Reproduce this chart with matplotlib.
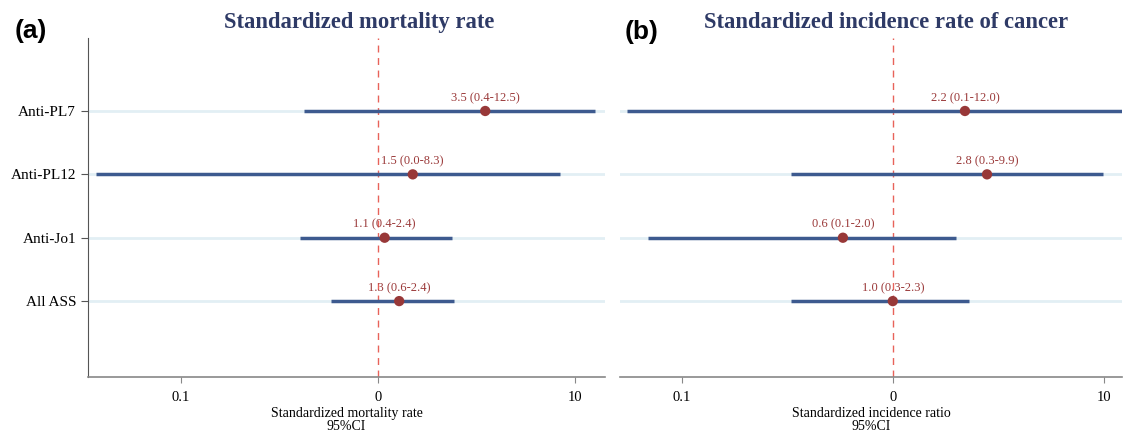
import numpy as np
import matplotlib.pyplot as plt
from matplotlib.ticker import FixedLocator, FixedFormatter, NullLocator

plt.rcParams['font.family'] = ['Liberation Serif', 'DejaVu Serif']

# rows, top to bottom
groups = ['Anti-PL7', 'Anti-PL12', 'Anti-Jo1', 'All ASS']

# (a) standardized mortality rate
smr = [3.5, 1.5, 1.08, 1.28]
smr_low = [0.42, 0.037, 0.40, 0.58]
smr_high = [12.6, 8.4, 2.37, 2.43]
smr_labels = ['3.5 (0.4-12.5)', '1.5 (0.0-8.3)', '1.1 (0.4-2.4)', '1.3 (0.6-2.4)']

# (b) standardized incidence ratio of cancer
sir = [2.2, 2.8, 0.58, 1.0]
sir_low = [0.055, 0.33, 0.069, 0.33]
sir_high = [12.2, 9.9, 2.0, 2.3]
sir_labels = ['2.2 (0.1-12.0)', '2.8 (0.3-9.9)', '0.6 (0.1-2.0)', '1.0 (0.3-2.3)']

xticks = [0.1, 1, 10]
xtick_labels = ['0.1', '0', '10']

bar_color = '#3d5a8f'
dot_color = '#983838'
text_color = '#9b3a3a'
title_color = '#2e3a66'
grid_color = '#e2eff4'
ref_color = '#e8625a'


def forest(ax, est, low, high, labels, xlim, title, title_x, xlabel, show_y):
    ypos = np.arange(len(groups))[::-1] + 1
    for y in ypos:
        ax.axhline(y, color=grid_color, lw=2, zorder=0)
    ax.axvline(1, color=ref_color, lw=1, ls=(0, (5, 4)), zorder=1)
    ax.hlines(ypos, low, high, color=bar_color, lw=2.5, zorder=2)
    ax.scatter(est, ypos, s=55, color=dot_color, zorder=3, edgecolors='none')
    for x, y, lab in zip(est, ypos, labels):
        ax.annotate(lab, (x, y), xytext=(0, 5), textcoords='offset points',
                    ha='center', va='bottom', fontsize=9, color=text_color)
    ax.set_xscale('log')
    ax.set_xlim(*xlim)
    ax.set_ylim(-0.2, 5.15)
    ax.xaxis.set_major_locator(FixedLocator(xticks))
    ax.xaxis.set_major_formatter(FixedFormatter(xtick_labels))
    ax.xaxis.set_minor_locator(NullLocator())
    ax.tick_params(axis='x', labelsize=10.5, length=4, color='#888888', pad=6)
    ax.set_xlabel(xlabel, fontsize=10, labelpad=2, linespacing=1.0)
    ax.set_title(title, fontsize=16.3, fontweight='bold', color=title_color,
                 pad=7, x=title_x)
    for s in ['top', 'right']:
        ax.spines[s].set_visible(False)
    ax.spines['bottom'].set_color('#888888')
    ax.spines['bottom'].set_linewidth(1.2)
    if show_y:
        ax.set_yticks(ypos)
        ax.set_yticklabels(groups, fontsize=11)
        ax.tick_params(axis='y', length=5, color='#555555')
        ax.spines['left'].set_color('#555555')
    else:
        ax.set_yticks([])
        ax.spines['left'].set_visible(False)


fig = plt.figure(figsize=(11.24, 4.33), dpi=100)
ax1 = fig.add_axes([0.0783, 0.129, 0.46, 0.783])
ax2 = fig.add_axes([0.5516, 0.129, 0.4464, 0.783])

forest(ax1, smr, smr_low, smr_high, smr_labels, (0.0337, 14.2),
       'Standardized mortality rate', 0.524,
       'Standardized mortality rate\n95%CI', True)
forest(ax2, sir, sir_low, sir_high, sir_labels, (0.0508, 12.2),
       'Standardized incidence rate of cancer', 0.530,
       'Standardized incidence ratio\n95%CI', False)

fig.text(0.013, 0.928, '(a)', fontsize=19, fontweight='bold', family='Liberation Sans', va='center')
fig.text(0.556, 0.925, '(b)', fontsize=19, fontweight='bold', family='Liberation Sans', va='center')

plt.savefig('out.png', dpi=100)
